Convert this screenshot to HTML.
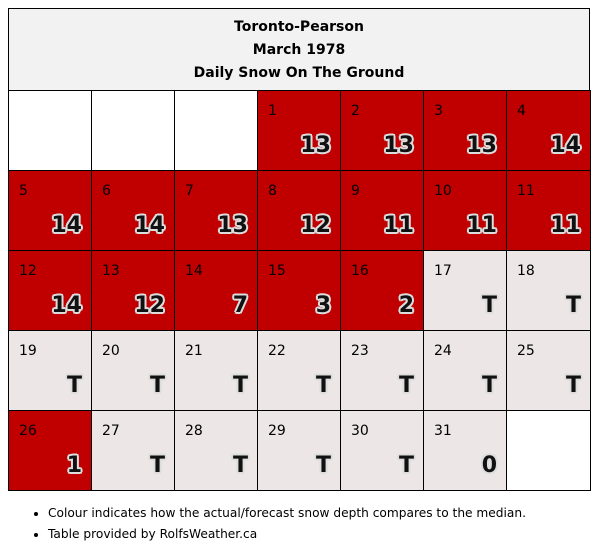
<!DOCTYPE html>
<html><head><meta charset="utf-8"><style>
body{margin:0;background:#fff;width:600px;height:553px;position:relative;font-family:"DejaVu Sans","Liberation Sans",sans-serif;overflow:hidden}
#hdr{position:absolute;left:8px;top:8px;width:582px;border:1px solid #000;background:#f2f2f2;text-align:center;font-weight:bold;font-size:14px;line-height:23px;padding-top:7px;box-sizing:border-box;height:83px}
.c{position:absolute;width:84px;height:81px;border:1px solid #000;box-sizing:border-box}
.r{background:#c00000}.g{background:#ede6e6}.w{background:#fff}
.d{position:absolute;left:10px;top:12px;font-size:14px;color:#000}
.v{position:absolute;right:9px;top:42px;font-size:22px;font-weight:bold;color:#111;text-shadow:-1.5px -1.5px 0 #ddd,1.5px -1.5px 0 #ddd,-1.5px 1.5px 0 #ddd,1.5px 1.5px 0 #ddd,0 2px 0 #ddd,0 -2px 0 #ddd,2px 0 0 #ddd,-2px 0 0 #ddd}
ul{position:absolute;left:28px;top:503px;margin:0;padding-left:20px;font-size:12.2px;line-height:21px}
</style></head><body>
<div id="hdr">Toronto-Pearson<br>March 1978<br>Daily Snow On The Ground</div>
<div id="cal"></div>
<ul>
<li>Colour indicates how the actual/forecast snow depth compares to the median.</li>
<li>Table provided by RolfsWeather.ca</li>
</ul>
<script>
const days=[1,2,3,4,5,6,7,8,9,10,11,12,13,14,15,16,17,18,19,20,21,22,23,24,25,26,27,28,29,30,31];
const values=["13","13","13","14","14","14","13","12","11","11","11","14","12","7","3","2","T","T","T","T","T","T","T","T","T","1","T","T","T","T","0"];
const startOffset=3;
const cal=document.getElementById('cal');
const colX=[8,91,174,257,340,423,506];
const colW=[84,84,84,84,84,84,85];
function cell(i,cls,d,v){
  const col=i%7,row=Math.floor(i/7);
  const el=document.createElement('div');
  el.className='c '+cls;
  el.style.left=colX[col]+'px';el.style.top=(90+row*80)+'px';el.style.width=colW[col]+'px';
  
  
  if(d){
    const a=document.createElement('div');a.className='d';a.textContent=d;
    
    
    const b=document.createElement('div');b.className='v';b.textContent=v;
    
    
    el.appendChild(a);el.appendChild(b);
  }
  cal.appendChild(el);
}
for(let i=0;i<startOffset;i++)cell(i,'w');
days.forEach((d,k)=>{const v=values[k];const cls=(v==='T'||v==='0')?'g':'r';cell(k+startOffset,cls,d,v);});
for(let i=startOffset+days.length;i<35;i++)cell(i,'w');
</script>
</body></html>
